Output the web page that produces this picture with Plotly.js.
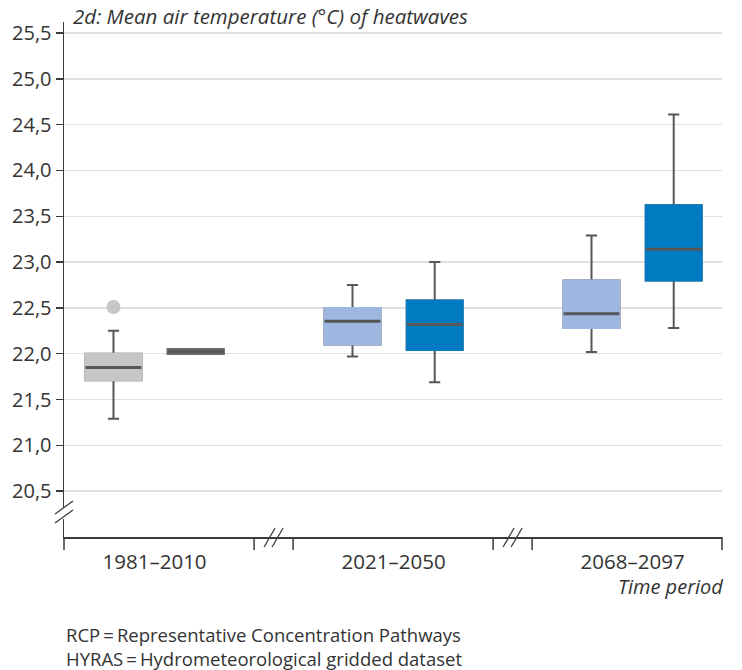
<!DOCTYPE html>
<html>
<head>
<meta charset="utf-8">
<script src="https://cdn.plot.ly/plotly-3.0.1.min.js"></script>
<style>
  html, body { margin: 0; padding: 0; background: #ffffff; }
  #chart { width: 742px; height: 670px; }
</style>
</head>
<body>
<div id="chart"></div>
<script>
// ---------------- data ----------------
const periods = ['1981–2010', '2021–2050', '2068–2097'];
const yTicks = [20.5, 21.0, 21.5, 22.0, 22.5, 23.0, 23.5, 24.0, 24.5, 25.0, 25.5];

// model ensemble, reference period (grey)
const histPeriods = ['1981–2010'];
const histLower  = [21.29];
const histQ1     = [21.71];
const histMedian = [21.85];
const histQ3     = [22.00];
const histUpper  = [22.25];
const histOutliers = [22.51];

// HYRAS observations (dark grey)
const hyrasPeriods = ['1981–2010'];
const hyrasLow  = [22.00];
const hyrasMid  = [22.025];
const hyrasHigh = [22.05];

// RCP4.5 (light blue)
const rcp45Periods = ['2021–2050', '2068–2097'];
const rcp45Lower  = [21.97, 22.02];
const rcp45Q1     = [22.10, 22.28];
const rcp45Median = [22.355, 22.435];
const rcp45Q3     = [22.50, 22.80];
const rcp45Upper  = [22.75, 23.29];

// RCP8.5 (dark blue)
const rcp85Periods = ['2021–2050', '2068–2097'];
const rcp85Lower  = [21.69, 22.28];
const rcp85Q1     = [22.04, 22.80];
const rcp85Median = [22.32, 23.14];
const rcp85Q3     = [22.58, 23.62];
const rcp85Upper  = [23.00, 24.61];

const notes = ['RCP\u2009=\u2009Representative Concentration Pathways',
               'HYRAS\u2009=\u2009Hydrometeorological gridded dataset'];

// ---------------- styling ----------------
const FONT = '"Open Sans", "Noto Sans", sans-serif';
const TEXT = '#333333';
const DARK = '#575757';
const AXIS = '#3c3c3c';
const BOXGAP = 0.312;
const BOXGROUPGAP = 0.32;

const idx = p => periods.indexOf(p);

function boxLayers(name, cats, lower, q1, med, q3, upper, fill, group) {
  const x = cats.map(idx);
  const common = { type: 'box', x: x, offsetgroup: group, boxpoints: false,
                   hoverinfo: 'skip', showlegend: false, name: name };
  return [
    // whiskers (+ dark outline, later covered)
    Object.assign({}, common, {
      q1: q1, median: med, q3: q3, lowerfence: lower, upperfence: upper,
      fillcolor: fill, line: { color: DARK, width: 2 }, whiskerwidth: 0.2
    }),
    // box body, hides the outline
    Object.assign({}, common, {
      q1: q1, median: med, q3: q3, lowerfence: q1, upperfence: q3,
      fillcolor: fill, line: { color: fill, width: 2 }, whiskerwidth: 0
    }),
    // median line
    Object.assign({}, common, {
      q1: med, median: med, q3: med, lowerfence: med, upperfence: med,
      fillcolor: 'rgba(0,0,0,0)', line: { color: DARK, width: 3 }, whiskerwidth: 0
    })
  ];
}

const traces = [].concat(
  boxLayers('Model 1981–2010', histPeriods, histLower, histQ1, histMedian, histQ3, histUpper, '#c6c6c6', 'a'),
  boxLayers('HYRAS', hyrasPeriods, hyrasLow, hyrasLow, hyrasMid, hyrasHigh, hyrasHigh, '#676767', 'b'),
  boxLayers('RCP4.5', rcp45Periods, rcp45Lower, rcp45Q1, rcp45Median, rcp45Q3, rcp45Upper, '#9db7e0', 'a'),
  boxLayers('RCP8.5', rcp85Periods, rcp85Lower, rcp85Q1, rcp85Median, rcp85Q3, rcp85Upper, '#007bc2', 'b')
);

// outlier of the grey box (offset of group 'a' in grouped box mode)
const offsetA = -0.25 * (1 - BOXGAP);
traces.push({
  type: 'scatter', mode: 'markers',
  x: histOutliers.map(() => idx(histPeriods[0]) + offsetA),
  y: histOutliers,
  marker: { color: '#c6c6c6', size: 14 },
  hoverinfo: 'skip', showlegend: false
});

// ---------------- axis decorations ----------------
const shapes = [];
const lineStyle = { color: AXIS, width: 1.5 };
// end ticks of the x axis
[0, 1].forEach(px => shapes.push({
  type: 'line', xref: 'paper', x0: px, x1: px,
  yref: 'paper', ysizemode: 'pixel', yanchor: 0, y0: 0, y1: -13,
  line: lineStyle, layer: 'above'
}));
// breaks between periods
[0.5, 1.5].forEach(b => {
  [-20, 19].forEach(dx => shapes.push({
    type: 'line', xref: 'x', xsizemode: 'pixel', xanchor: b, x0: dx, x1: dx,
    yref: 'paper', ysizemode: 'pixel', yanchor: 0, y0: 0, y1: -13,
    line: lineStyle, layer: 'above'
  }));
  [-10, -2].forEach(dx => shapes.push({
    type: 'line', xref: 'x', xsizemode: 'pixel', xanchor: b, x0: dx, x1: dx + 11,
    yref: 'paper', ysizemode: 'pixel', yanchor: 0, y0: -10, y1: 9,
    line: { color: AXIS, width: 1.3 }, layer: 'above'
  }));
});
// y axis break
shapes.push({
  type: 'rect', xref: 'paper', xsizemode: 'pixel', xanchor: 0, x0: -3, x1: 3,
  yref: 'paper', ysizemode: 'pixel', yanchor: 0, y0: 18, y1: 29,
  fillcolor: '#ffffff', line: { width: 0 }, layer: 'above'
});
[14, 23].forEach(dy => shapes.push({
  type: 'line', xref: 'paper', xsizemode: 'pixel', xanchor: 0, x0: -9, x1: 9,
  yref: 'paper', ysizemode: 'pixel', yanchor: 0, y0: dy, y1: dy + 13,
  line: { color: AXIS, width: 1.3 }, layer: 'above'
}));

const layout = {
  width: 742, height: 670,
  margin: { l: 64, r: 20, t: 22, b: 133 },
  paper_bgcolor: '#ffffff', plot_bgcolor: '#ffffff',
  separators: ',.',
  font: { family: FONT, size: 20, color: TEXT },
  boxmode: 'group', boxgap: BOXGAP, boxgroupgap: BOXGROUPGAP,
  showlegend: false,
  title: {
    text: '2d: Mean air temperature (°C) of heatwaves',
    font: { family: FONT, size: 20.5, color: TEXT, style: 'italic' },
    xref: 'container', x: 73 / 742, xanchor: 'left',
    yref: 'container', y: 1 - 17 / 670, yanchor: 'middle',
    pad: { t: 0, b: 0, l: 0, r: 0 }
  },
  xaxis: {
    type: 'linear', range: [-0.379, 2.374],
    tickvals: periods.map((p, i) => i), ticktext: periods,
    ticks: '', showgrid: false, zeroline: false,
    showline: true, linecolor: AXIS, linewidth: 1.5,
    ticklabelstandoff: 6,
    tickfont: { family: FONT, size: 20.5, color: TEXT }
  },
  yaxis: {
    range: [20, 25.62], tickvals: yTicks, tickformat: '.1f',
    showgrid: true, gridcolor: '#e0e0e0', gridwidth: 1.5,
    zeroline: false, showline: true, linecolor: AXIS, linewidth: 1.5,
    ticks: 'outside', ticklen: 7, tickwidth: 1.5, tickcolor: AXIS,
    tickfont: { family: FONT, size: 20, color: TEXT }
  },
  shapes: shapes,
  annotations: [
    { text: 'Time period', xref: 'paper', x: 1, xanchor: 'right', xshift: 3,
      yref: 'paper', y: 0, yshift: -49, yanchor: 'middle', showarrow: false,
      font: { family: FONT, size: 20, color: TEXT, style: 'italic' } },
    { text: notes.join('<br>'), xref: 'paper', x: 0, xanchor: 'left',
      yref: 'paper', y: 0, yshift: -109, yanchor: 'middle', showarrow: false, align: 'left',
      font: { family: FONT, size: 18.5, color: TEXT } }
  ]
};

Plotly.newPlot('chart', traces, layout, { displayModeBar: false, staticPlot: true });
</script>
</body>
</html>
